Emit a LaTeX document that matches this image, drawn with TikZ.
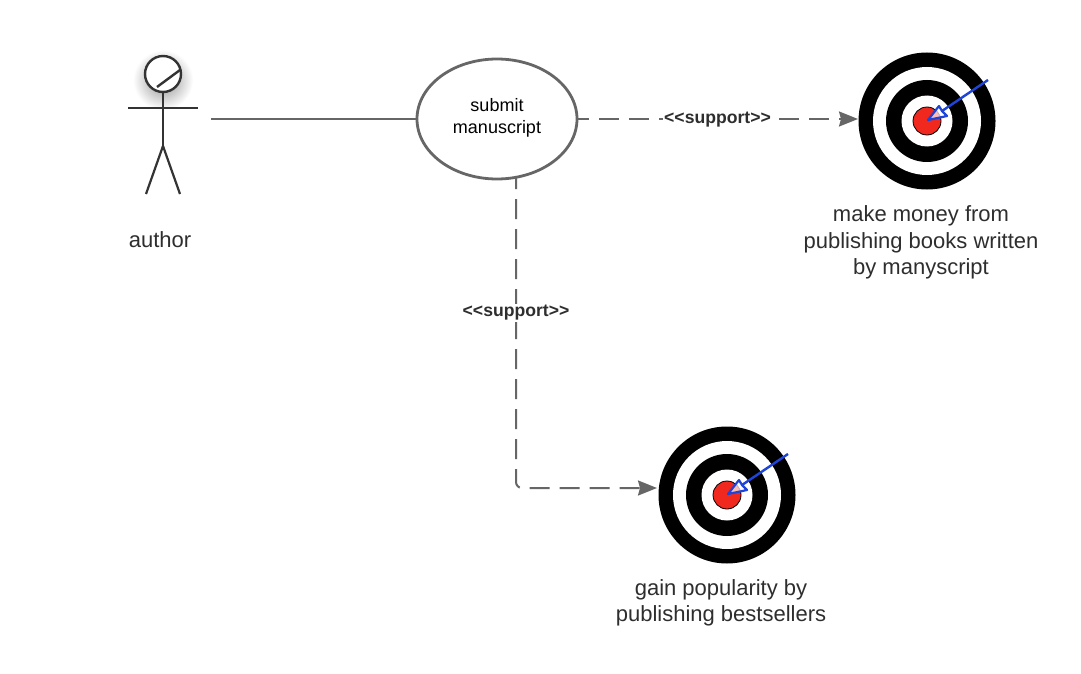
\documentclass[tikz,border=0pt]{standalone}
\usepackage{fontspec}
\setmainfont{Liberation Sans}
\usetikzlibrary{arrows.meta, shapes.geometric}
\definecolor{lineGray}{HTML}{666666}
\definecolor{stickDark}{HTML}{333333}
\definecolor{textDark}{HTML}{2E2E2E}
\definecolor{goalRed}{HTML}{F0281E}
\definecolor{arrowBlue}{HTML}{1F45D8}
\tikzset{
  support/.style={dash pattern=on 20pt off 10pt, dash phase=9pt, line width=2pt, color=lineGray,
    -{Stealth[length=19pt, width=15pt, inset=2pt]}},
  stereo/.style={font=\fontsize{17.6}{20}\selectfont\bfseries, text=textDark, fill=white, inner sep=1pt},
  caption/.style={font=\fontsize{22}{26.5}\selectfont, text=textDark, align=center},
  goalmark/.pic={
    \fill[black] (0,0) circle (68.5pt);
    \fill[white] (0,0) circle (54pt);
    \fill[black] (0,0) circle (41pt);
    \fill[white] (0,0) circle (25.5pt);
    \draw[fill=goalRed, line width=0.8pt] (0,0) circle (14pt);
    \draw[arrowBlue, line width=2.4pt] (15,-10) -- (61,-41);
    \draw[arrowBlue, line width=2.2pt, fill=white, fill opacity=0.7, line join=round]
      (1,-1) -- (12,-15) -- (15,-10) -- (20,-5) -- cycle;
  }
}

\begin{document}
\begin{tikzpicture}[x=1pt, y=-1pt]
  \useasboundingbox (0,0) rectangle (1081,674);
  \fill[white] (0,0) rectangle (1081,674);

  % actor
  \shade[inner color=black!45, outer color=white, draw=none] (163,80) circle (30pt);
  \draw[stickDark, line width=2.4pt, fill=white] (163,74) circle (18pt);
  \draw[stickDark, line width=2.4pt] (157,87) -- (180,70);
  \draw[stickDark, line width=2.6pt] (163,92) -- (163,146);
  \draw[stickDark, line width=2.2pt] (128,108) -- (198,108);
  \draw[stickDark, line width=2.2pt] (163,146) -- (146,194);
  \draw[stickDark, line width=2.2pt] (163,146) -- (180,194);
  \node[caption] (author) at (160,240) {author};
  \coordinate (actorhand) at (211,119);

  % use case
  \node[ellipse, draw=lineGray, line width=2.8pt, minimum width=160pt, minimum height=120pt,
    inner sep=0pt] (submit) at (497,119) {};
  \node[align=center, font=\fontsize{18}{22}\selectfont] (submittext) at (497,118)
    {submit\\manuscript};
  \draw[lineGray, line width=1.8pt] (actorhand) -- (submit.west |- actorhand);

  % goals
  \path (927,121) pic {goalmark};
  \node[circle, minimum size=137pt, inner sep=0pt] (goalmoney) at (927,121) {};
  \node[caption] (moneytext) at (921,242.5)
    {make money from\\publishing books written\\by manyscript};
  \path (727,495) pic {goalmark};
  \node[circle, minimum size=137pt, inner sep=0pt] (goalfame) at (727,495) {};
  \node[caption] (fametext) at (721,603)
    {gain popularity by\\publishing bestsellers};

  % connectors
  \coordinate (moneytip) at (858,119);
  \coordinate (fametip) at (657,488);
  \coordinate (famestart) at (516,178);
  \coordinate (moneystart) at (578,119);
  \draw[support] (moneystart) -- (moneytip);
  \draw[support, rounded corners=6pt] (famestart) |- (fametip);
  \node[stereo] (supportone) at (717.5,120) {<{}<support>{}>};
  \node[stereo] (supporttwo) at (516,313) {<{}<support>{}>};
\end{tikzpicture}
\end{document}
